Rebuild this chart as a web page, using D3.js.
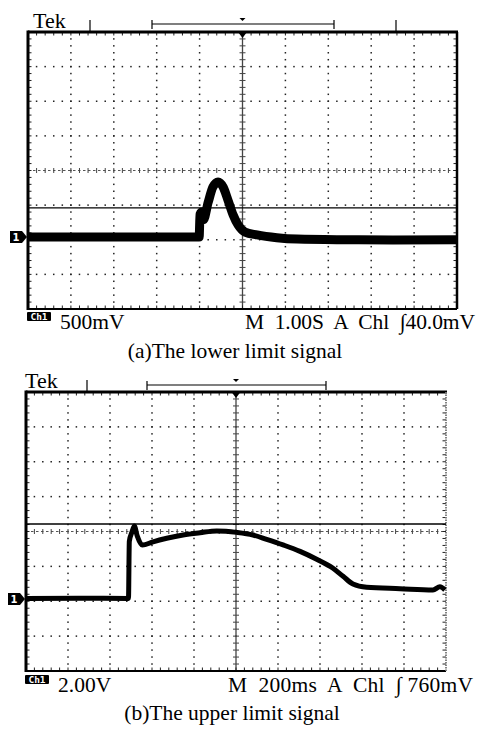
<!DOCTYPE html>
<html><head><meta charset="utf-8">
<script src="https://cdn.jsdelivr.net/npm/d3@7"></script>
<style>body{margin:0;background:#fff}</style>
</head><body><svg id="c" width="480" height="730"></svg>
<script>
// ---- data (a): lower limit signal, time in s, voltage in V ----
const timeA = [0, 1, 2, 3, 3.99, 4.01, 4.05, 4.09, 4.20, 4.31, 4.43, 4.55, 4.66, 4.78, 4.90, 5.06, 5.34, 5.80, 6.27, 7.5, 8.5, 10];
const voltA = [0, 0, 0, 0, 0, 0.33, 0.36, 0.25, 0.50, 0.72, 0.795, 0.72, 0.535, 0.32, 0.17, 0.07, 0.03, -0.01, -0.03, -0.04, -0.045, -0.04];
const trigLevelA = [0.42];
// ---- data (b): upper limit signal, time in ms, voltage in V ----
const timeB = [0, 250, 488, 492, 505, 516, 530, 554, 605, 670, 748, 829, 908, 1003, 1081, 1146, 1224, 1305, 1384, 1462, 1510, 1557, 1622, 1781, 1938, 1971, 1995];
const voltB = [0.03, 0.04, 0.03, 3.30, 3.85, 4.18, 3.60, 3.09, 3.28, 3.48, 3.67, 3.80, 3.90, 3.82, 3.67, 3.42, 3.10, 2.73, 2.28, 1.76, 1.30, 0.86, 0.67, 0.59, 0.52, 0.70, 0.52];
const trigLevelB = [4.30];
// ---- labels ----
const tekLabels = ["Tek", "Tek"];
const scaleTexts = ["500mV", "2.00V"];
const timebaseTexts = ["M  1.00S  A  Chl  \u222B40.0mV", "M  200ms  A  Chl  \u222B 760mV"];
const captions = ["(a)The lower limit signal", "(b)The upper limit signal"];
const timePerDiv = [1.00, 200];
const voltsPerDiv = [0.5, 2.0];

const FONT = "'Liberation Serif','Times New Roman',serif";
const svg = d3.select("#c");

const layouts = [
  {x0: 28, x1: 457, y0: 32, y1: 309, gnd: 2.08, sw: 9, ticks: [90, 396], br: [152, 334], by: 24,
   tekX: 33, tekY: 28, chX: 27, chY: 312, txtY: 329, capY: 358, capX: 235, rightThick: true, tbX: 245, tbLen: 230},
  {x0: 26, x1: 446, y0: 392, y1: 671, gnd: 2.065, sw: 5, ticks: [87], br: [147, 326], by: 385,
   tekX: 25, tekY: 388, chX: 25, chY: 675, txtY: 692, capY: 720, capX: 232, rightThick: false, tbX: 228, tbLen: 245}
];
const datasets = [[timeA, voltA, trigLevelA], [timeB, voltB, trigLevelB]];

layouts.forEach((p, i) => {
  const g = svg.append("g");
  const [tt, vv, trig] = datasets[i];
  const W = p.x1 - p.x0, H = p.y1 - p.y0, dx = W / 10, dy = H / 8;
  const x = d3.scaleLinear().domain([0, 10 * timePerDiv[i]]).range([p.x0, p.x1]);
  const y = d3.scaleLinear().domain([-p.gnd * voltsPerDiv[i], (8 - p.gnd) * voltsPerDiv[i]]).range([p.y1, p.y0]);
  const cx = p.x0 + 5 * dx, cy = p.y0 + 4 * dy;

  // grid dots
  const dots = [];
  for (let k = 1; k < 10; k++) if (k !== 5) for (let m = 1; m < 40; m++) dots.push([p.x0 + k * dx, p.y0 + m * dy / 5]);
  for (let j = 1; j < 8; j++) if (j !== 4) for (let m = 1; m < 50; m++) dots.push([p.x0 + m * dx / 5, p.y0 + j * dy]);
  g.selectAll(null).data(dots).enter().append("rect")
    .attr("x", d => d[0] - 0.75).attr("y", d => d[1] - 0.75).attr("width", 1.5).attr("height", 1.5).attr("fill", "#222");

  // center lines with ticks
  g.append("line").attr("x1", cx).attr("x2", cx).attr("y1", p.y0).attr("y2", p.y1).attr("stroke", "#444").attr("stroke-width", 1.3);
  g.append("line").attr("x1", p.x0).attr("x2", p.x1).attr("y1", cy).attr("y2", cy).attr("stroke", "#555").attr("stroke-width", 1).attr("stroke-dasharray", "2.5,2.5");
  const vt = d3.range(1, 40).map(m => p.y0 + m * dy / 5);
  g.selectAll(null).data(vt).enter().append("line").attr("x1", cx - 3).attr("x2", cx + 3).attr("y1", d => d).attr("y2", d => d).attr("stroke", "#444");
  const ht = d3.range(1, 50).map(m => p.x0 + m * dx / 5);
  g.selectAll(null).data(ht).enter().append("line").attr("y1", cy - 2.5).attr("y2", cy + 2.5).attr("x1", d => d).attr("x2", d => d).attr("stroke", "#444");

  // edge ticks
  g.selectAll(null).data(ht).enter().append("line").attr("x1", d => d).attr("x2", d => d).attr("y1", p.y0).attr("y2", p.y0 + 3.5).attr("stroke", "#222");
  g.selectAll(null).data(ht).enter().append("line").attr("x1", d => d).attr("x2", d => d).attr("y1", p.y1 - 3.5).attr("y2", p.y1).attr("stroke", "#222");
  g.selectAll(null).data(vt).enter().append("line").attr("y1", d => d).attr("y2", d => d).attr("x1", p.x0).attr("x2", p.x0 + 3.5).attr("stroke", "#222");
  g.selectAll(null).data(vt).enter().append("line").attr("y1", d => d).attr("y2", d => d).attr("x1", p.x1 - 3.5).attr("x2", p.x1).attr("stroke", "#222");

  // frame
  g.append("line").attr("x1", p.x0).attr("x2", p.x1 + 1).attr("y1", p.y0).attr("y2", p.y0).attr("stroke", "#000").attr("stroke-width", 3);
  g.append("line").attr("x1", p.x0).attr("x2", p.x0).attr("y1", p.y0 - 1.5).attr("y2", p.y1 + 1).attr("stroke", "#000").attr("stroke-width", 3);
  g.append("line").attr("x1", p.x0).attr("x2", p.x1).attr("y1", p.y1).attr("y2", p.y1).attr("stroke", "#000").attr("stroke-width", 1.8);
  if (p.rightThick) g.append("line").attr("x1", p.x1).attr("x2", p.x1).attr("y1", p.y0).attr("y2", p.y1).attr("stroke", "#000").attr("stroke-width", 2.5);
  else g.append("line").attr("x1", p.x1).attr("x2", p.x1).attr("y1", p.y0).attr("y2", p.y1).attr("stroke", "#777").attr("stroke-width", 1.8).attr("stroke-dasharray", "1.5,1");

  // trigger level line
  g.selectAll(null).data(trig).enter().append("line").attr("x1", p.x0).attr("x2", p.x1)
    .attr("y1", d => y(d)).attr("y2", d => y(d)).attr("stroke", "#000").attr("stroke-width", 1.4);

  // signal
  const pts = tt.map((t, k) => [t, vv[k]]);
  g.append("path").datum(pts)
    .attr("d", d3.line().x(d => x(d[0])).y(d => y(d[1])).curve(d3.curveMonotoneX))
    .attr("fill", "none").attr("stroke", "#000").attr("stroke-width", p.sw).attr("stroke-linejoin", "round");

  // trigger position marker
  g.append("path").attr("d", `M${cx - 4.5},${p.y0}L${cx + 4.5},${p.y0}L${cx},${p.y0 + 6}Z`).attr("fill", "#000");

  // ground marker
  const gy = y(0);
  g.append("path").attr("d", `M${p.x0 - 18},${gy - 6}L${p.x0 - 6},${gy - 6}L${p.x0 - 1},${gy}L${p.x0 - 6},${gy + 6}L${p.x0 - 18},${gy + 6}Z`).attr("fill", "#000");
  g.append("text").attr("x", p.x0 - 12).attr("y", gy + 4).attr("text-anchor", "middle").attr("fill", "#fff")
    .attr("font-family", "DejaVu Sans, sans-serif").attr("font-size", 10).attr("font-weight", "bold").text("1");

  // header
  g.append("text").attr("x", p.tekX).attr("y", p.tekY).attr("font-family", FONT).attr("font-size", 22).text(tekLabels[i]);
  p.ticks.forEach(tx => g.append("line").attr("x1", tx).attr("x2", tx).attr("y1", p.y0 - 12).attr("y2", p.y0 - 1).attr("stroke", "#000").attr("stroke-width", 1.2));
  g.append("line").attr("x1", p.br[0]).attr("x2", p.br[1]).attr("y1", p.by).attr("y2", p.by).attr("stroke", "#000").attr("stroke-width", 1.2);
  p.br.forEach(bx => g.append("line").attr("x1", bx).attr("x2", bx).attr("y1", p.by - 4).attr("y2", p.by + 5).attr("stroke", "#000").attr("stroke-width", 1.2));
  g.append("path").attr("d", `M${cx - 3},${p.by - 6}L${cx + 3},${p.by - 6}L${cx},${p.by - 3}Z`).attr("fill", "#000");

  // bottom readout
  g.append("rect").attr("x", p.chX).attr("y", p.chY).attr("width", 24).attr("height", 9).attr("rx", 1).attr("fill", "#000");
  g.append("text").attr("x", p.chX + 12).attr("y", p.chY + 8).attr("text-anchor", "middle").attr("fill", "#fff")
    .attr("font-family", "DejaVu Sans Mono, monospace").attr("font-size", 9.5).attr("font-weight", "bold").text("Ch1");
  g.append("text").attr("x", p.chX + 33).attr("y", p.txtY).attr("font-family", FONT).attr("font-size", 21.5).text(scaleTexts[i]);
  g.append("text").attr("x", p.tbX).attr("y", p.txtY).attr("font-family", FONT).attr("font-size", 21.5)
    .attr("textLength", p.tbLen).attr("lengthAdjust", "spacing")
    .style("white-space", "pre").text(timebaseTexts[i]);
  g.append("text").attr("x", p.capX).attr("y", p.capY).attr("text-anchor", "middle").attr("font-family", FONT).attr("font-size", 21.5).text(captions[i]);
});
</script></body></html>
